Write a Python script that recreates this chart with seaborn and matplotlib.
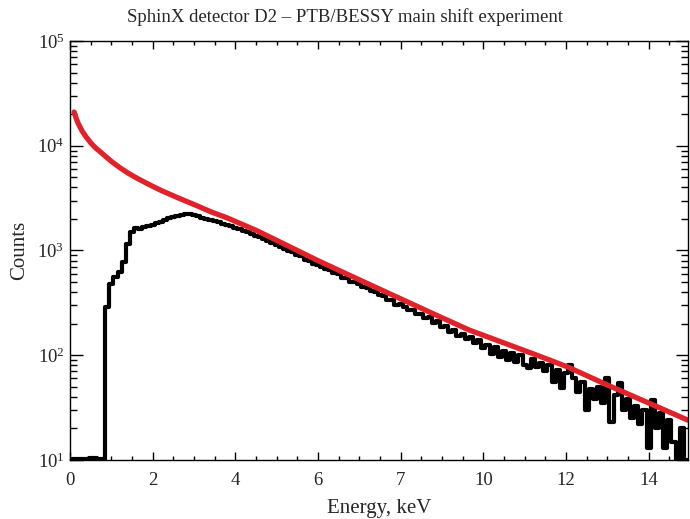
import numpy as np
import pandas as pd
import matplotlib
matplotlib.use("Agg")
import matplotlib.pyplot as plt
import seaborn as sns
from matplotlib.ticker import FixedLocator, MultipleLocator, LogLocator, NullFormatter

# ============================================================
# DATA
# ============================================================

# measured spectrum, 0.1 keV bins starting at 0.05 keV
energy = np.round(np.arange(0.05, 15.0, 0.1), 2)
counts = [
    10.3, 10.2, 10.3, 10.2, 10.5, 10.4, 10.2, 10.3, 290, 480,          # 0.05 - 0.95
    560, 620, 780, 1150, 1500, 1640, 1620, 1670, 1700, 1760,          # 1.05 - 1.95
    1820, 1870, 1950, 2050, 2100, 2150, 2200, 2250, 2230, 2180,       # 2.05 - 2.95
    2120, 2060, 2000, 1960, 1910, 1860, 1810, 1750, 1700, 1650,       # 3.05 - 3.95
    1600, 1540, 1490, 1440, 1390, 1350, 1300, 1240, 1180, 1140,       # 4.05 - 4.95
    1070, 1040, 980, 960, 900, 880, 820, 800, 750, 730,               # 5.05 - 5.95
    700, 660, 645, 605, 590, 550, 550, 505, 495, 475,                 # 6.05 - 6.95
    445, 440, 410, 400, 375, 365, 335, 340, 305, 310,                 # 7.05 - 7.95
    290, 270, 272, 245, 250, 228, 230, 205, 210, 188,                 # 8.05 - 8.95
    190, 168, 175, 152, 160, 142, 150, 132, 140, 118,                 # 9.05 - 9.95
    125, 102, 120, 97, 110, 90, 105, 86, 100, 80,                     # 10.05 - 10.95
    76, 92, 78, 85, 70, 80, 55, 72, 49, 68,                           # 11.05 - 11.95
    80, 60, 45, 55, 30, 48, 38, 50, 35, 60,                           # 12.05 - 12.95
    23, 42, 54, 30, 38, 25, 33, 22, 30, 13,                           # 13.05 - 13.95
    37, 20, 28, 13, 24, 15, 10, 20, 10, 10,                           # 14.05 - 14.95
]

# model curve
model_energy = [0.1, 0.15, 0.2, 0.3, 0.4, 0.5, 0.6, 0.8, 1.0, 1.2, 1.4, 1.6, 1.8,
                2.0, 2.2, 2.6, 3.0, 3.4, 3.8, 4.5, 5.0, 6.0, 7.0, 8.0, 9.0, 9.66,
                10.5, 11.3, 12.05, 13.0, 14.0, 14.95]
model_counts = [21000, 18300, 16300, 13700, 12000, 10700, 9700, 8300, 7100, 6200, 5500, 4950, 4500,
                4100, 3750, 3200, 2750, 2350, 2050, 1560, 1250, 800, 525, 346, 228, 174,
                131, 100, 77, 52, 35, 24]

xtick_pos = [0, 2, 4, 6, 8, 10, 12, 14]
xtick_labels = ["0", "2", "4", "6", "7", "10", "12", "14"]

# ============================================================
# PLOT
# ============================================================

sns.set_style("ticks")
plt.rcParams["font.family"] = ["Liberation Serif", "DejaVu Serif"]
plt.rcParams["mathtext.fontset"] = "stix"

df = pd.DataFrame({"energy": energy, "counts": counts})
dm = pd.DataFrame({"energy": model_energy, "counts": model_counts})

fig = plt.figure(figsize=(6.9, 5.19), dpi=100)
ax = fig.add_axes([0.1014, 0.1137, 0.8956, 0.8073])

sns.lineplot(data=df, x="energy", y="counts", ax=ax, color="black",
             linewidth=3.0, drawstyle="steps-post", estimator=None, sort=False)
sns.lineplot(data=dm, x="energy", y="counts", ax=ax, color="#e0232a",
             linewidth=3.8, estimator=None, sort=False, solid_capstyle="round")

ax.set_yscale("log")
ax.set_ylim(10, 1e5)
ax.set_xlim(0, 14.95)

ax.xaxis.set_major_locator(FixedLocator(xtick_pos))
ax.set_xticklabels(xtick_labels)
ax.xaxis.set_minor_locator(MultipleLocator(0.5))
ax.yaxis.set_major_locator(LogLocator(base=10, numticks=10))
ax.yaxis.set_minor_locator(LogLocator(base=10, subs=np.arange(2, 10), numticks=10))
ax.yaxis.set_minor_formatter(NullFormatter())

ax.tick_params(axis="both", which="both", direction="in", top=True, right=True,
               labelsize=13.5, color="black", width=1.0)
ax.tick_params(axis="x", which="major", length=5.5, pad=9)
ax.tick_params(axis="x", which="minor", length=3)
ax.tick_params(axis="y", which="major", length=9, pad=4)
ax.tick_params(axis="y", which="minor", length=5)

for s in ax.spines.values():
    s.set_linewidth(1.0)
    s.set_color("black")

# title is centred on the figure, not on the axes
fig.text(0.5, 0.967, "SphinX detector D2 \u2013 PTB/BESSY main shift experiment",
         ha="center", va="center", fontsize=13.5)
ax.set_xlabel("Energy, keV", fontsize=15, labelpad=7)
ax.set_ylabel("Counts", fontsize=15, labelpad=6)

fig.savefig("out.png", dpi=100)
